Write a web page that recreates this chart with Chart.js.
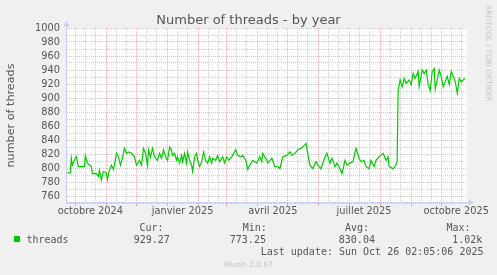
<!DOCTYPE html>
<html>
<head>
<meta charset="utf-8">
<script src="https://cdn.jsdelivr.net/npm/chart.js@4.4.1/dist/chart.umd.min.js"></script>
<style>
  html, body { margin: 0; padding: 0; background: #f0f0f0; }
  canvas { display: block; }
</style>
</head>
<body>
<canvas id="chart" width="497" height="275"></canvas>
<script>
// day index = days since 1 Oct 2024
const days = [
  -8, -5, -4, -3, -1, 1, 3, 6, 9, 10, 12, 16, 17, 21, 23, 24, 26, 28, 31, 32,
  34, 36, 38, 39, 41, 43, 45, 47, 49, 51, 53, 56, 59, 61, 64, 66, 68, 70, 72, 73,
  75, 77, 79, 82, 84, 86, 88, 90, 92, 94, 96, 97, 99, 101, 102, 104, 106, 107, 109, 111,
  112, 114, 116, 117, 119, 121, 122, 124, 126, 128, 130, 132, 134, 136, 137, 140, 142, 144, 147, 149,
  151, 153, 156, 158, 160, 162, 165, 167, 170, 172, 174, 177, 181, 184, 186, 187, 191, 192, 196, 199,
  202, 204, 207, 211, 214, 216, 219, 222, 225, 229, 230, 234, 237, 240, 242, 245, 249, 251, 254, 256,
  259, 261, 264, 266, 269, 271, 274, 277, 280, 283, 285, 288, 290, 293, 295, 298, 300, 303, 305, 307,
  310, 312, 313, 317, 319, 321, 322, 324, 326, 328, 330, 333, 335, 337, 339, 342, 343, 346, 348, 350,
  352, 354, 356, 358, 359, 361, 363, 365, 367, 369, 371, 373, 375, 377, 379, 381, 383, 385, 387, 389
];
const threads = [
  793, 793, 814, 804, 811, 816, 802, 802, 802, 818, 807, 802, 792, 792, 788, 797, 783, 795, 793, 784,
  797, 804, 798, 804, 821, 816, 804, 814, 828, 821, 823, 821, 816, 804, 811, 804, 828, 821, 804, 826,
  816, 828, 816, 811, 821, 814, 826, 816, 811, 830, 826, 818, 821, 811, 816, 807, 818, 809, 821, 807,
  823, 811, 804, 795, 816, 821, 811, 802, 809, 823, 811, 807, 816, 807, 814, 811, 818, 809, 816, 807,
  816, 811, 816, 821, 826, 818, 816, 818, 811, 798, 804, 811, 807, 816, 809, 821, 811, 807, 814, 802,
  802, 799, 816, 818, 823, 818, 821, 826, 828, 833, 835, 804, 799, 809, 804, 799, 816, 821, 807, 814,
  802, 807, 799, 792, 811, 804, 807, 809, 828, 814, 809, 811, 802, 799, 811, 802, 811, 816, 818, 821,
  811, 816, 802, 799, 802, 809, 911, 926, 916, 928, 921, 926, 919, 935, 928, 938, 916, 940, 935, 940,
  919, 911, 938, 942, 913, 926, 940, 931, 916, 923, 931, 919, 938, 931, 923, 907, 928, 923, 926, 928
];

const yLabels = [760, 780, 800, 820, 840, 860, 880, 900, 920, 940, 960, 980, 1000];
const xLabels = ['octobre 2024', 'janvier 2025', 'avril 2025', 'juillet 2025', 'octobre 2025'];
const xLabelDays = [15, 107, 197, 288, 380];

const legendHeads = ['Cur:', 'Min:', 'Avg:', 'Max:'];
const legendValues = ['929.27', '773.25', '830.04', '1.02k'];
const lastUpdate = 'Last update: Sun Oct 26 02:05:06 2025';

const X_MIN = -8.3, X_MAX = 390.7;
const FONT = 'DejaVu Sans';
const MONO = 'DejaVu Sans Mono';
const TEXT = '#555555';
const AXIS = '#c8d0f6';
const MAJOR = 'rgba(222, 79, 79, 0.42)';
const MINOR = 'rgba(143, 143, 143, 0.42)';

// grille : début de mois (rouge), 11 et 21 (gris)
function dayOf(y, m, d) {
  return Math.round((Date.UTC(y, m, d) - Date.UTC(2024, 9, 1)) / 86400000);
}
const monthStarts = [];
const minorDays = [];
for (let y = 2024; y <= 2025; y++) {
  for (let m = 0; m < 12; m++) {
    monthStarts.push(dayOf(y, m, 1));
    minorDays.push(dayOf(y, m, 11), dayOf(y, m, 21));
  }
}
const inRange = v => v >= X_MIN && v <= X_MAX;
const xTickValues = [...monthStarts, ...minorDays, ...xLabelDays].filter(inRange).sort((a, b) => a - b);

const muninPlugin = {
  id: 'munin',
  beforeDraw(chart) {
    const { ctx, chartArea: a } = chart;
    ctx.save();
    ctx.fillStyle = '#f0f0f0';
    ctx.fillRect(0, 0, chart.width, chart.height);
    ctx.fillStyle = '#ffffff';
    ctx.fillRect(a.left, a.top, a.right - a.left, a.bottom - a.top);
    ctx.restore();
  },
  afterDraw(chart) {
    const { ctx, chartArea: a } = chart;
    ctx.save();

    // axes + flèches
    ctx.strokeStyle = AXIS;
    ctx.fillStyle = AXIS;
    ctx.lineWidth = 1;
    const ax = a.left - 0.5, ay = a.bottom - 0.5;
    ctx.beginPath();
    ctx.moveTo(ax, a.bottom + 1);
    ctx.lineTo(ax, a.top - 2);
    ctx.moveTo(a.left - 1, ay);
    ctx.lineTo(a.right + 2, ay);
    ctx.stroke();
    ctx.beginPath();
    ctx.moveTo(ax, a.top - 7);
    ctx.lineTo(ax - 3, a.top - 1.5);
    ctx.lineTo(ax + 3, a.top - 1.5);
    ctx.closePath();
    ctx.fill();
    ctx.beginPath();
    ctx.moveTo(a.right + 7, ay);
    ctx.lineTo(a.right + 1.5, ay - 3);
    ctx.lineTo(a.right + 1.5, ay + 3);
    ctx.closePath();
    ctx.fill();

    // titre
    ctx.fillStyle = TEXT;
    ctx.font = '13px "' + FONT + '"';
    ctx.textAlign = 'center';
    ctx.textBaseline = 'alphabetic';
    ctx.fillText('Number of threads - by year', chart.width / 2, 24);

    // légende
    ctx.fillStyle = '#00cc00';
    ctx.fillRect(14, 236, 6, 6);
    ctx.fillStyle = TEXT;
    ctx.font = '10px "' + MONO + '"';
    ctx.textAlign = 'left';
    ctx.fillText('threads', 26.5, 243);
    const headX = [139.4, 242.7, 345, 446.5];
    const valX = [133.7, 229.8, 338.8, 452.2];
    legendHeads.forEach((h, i) => ctx.fillText(h, headX[i], 231.3));
    legendValues.forEach((v, i) => ctx.fillText(v, valX[i], 243));
    ctx.fillText(lastUpdate, 260.7, 254.6);

    // filigranes
    ctx.fillStyle = '#c4c4c4';
    ctx.font = '7.5px "' + FONT + '"';
    ctx.textAlign = 'center';
    ctx.fillText('Munin 2.0.67', chart.width / 2, 267.3);
    ctx.translate(487.7, 5);
    ctx.rotate(Math.PI / 2);
    ctx.textAlign = 'left';
    ctx.textBaseline = 'middle';
    ctx.fillText('RRDTOOL / TOBI OETIKER', 0, 0);
    ctx.restore();
  }
};

new Chart(document.getElementById('chart'), {
  type: 'line',
  data: {
    datasets: [{
      label: 'threads',
      data: days.map((d, i) => ({ x: d, y: threads[i] })),
      borderColor: '#00cc00',
      borderWidth: 1.2,
      pointRadius: 0,
      fill: false,
      tension: 0
    }]
  },
  options: {
    responsive: false,
    animation: false,
    devicePixelRatio: 1,
    layout: { padding: { top: 28, right: 30, left: 0, bottom: 0 } },
    plugins: {
      legend: { display: false },
      tooltip: { enabled: false }
    },
    scales: {
      x: {
        type: 'linear',
        min: X_MIN,
        max: X_MAX,
        afterBuildTicks: scale => {
          scale.ticks = xTickValues.map(v => ({ value: v }));
        },
        afterFit: scale => { scale.height = 72; },
        grid: {
          lineWidth: 1,
          color: ctx => {
            const v = ctx.tick.value;
            if (monthStarts.includes(v)) return MAJOR;
            if (minorDays.includes(v)) return MINOR;
            return 'rgba(0,0,0,0)';
          },
          drawTicks: true,
          tickLength: 3,
          tickColor: ctx => monthStarts.includes(ctx.tick.value) ? MAJOR : 'rgba(0,0,0,0)'
        },
        border: { display: false, dash: [1, 1] },
        ticks: {
          autoSkip: false,
          maxRotation: 0,
          minRotation: 0,
          padding: 0,
          color: TEXT,
          font: { family: FONT, size: 9.8 },
          callback: v => {
            const i = xLabelDays.indexOf(v);
            return i >= 0 ? xLabels[i] : '';
          }
        }
      },
      y: {
        min: 750,
        max: 1000,
        afterFit: scale => { scale.width = 67; },
        grid: {
          lineWidth: 1,
          drawTicks: false,
          color: ctx => ctx.tick.value % 20 === 0 ? MAJOR : MINOR
        },
        border: { display: false, dash: [1, 1] },
        ticks: {
          stepSize: 10,
          autoSkip: false,
          padding: 7,
          color: TEXT,
          font: { family: FONT, size: 9.8 },
          callback: v => yLabels.includes(v) ? String(v) : ''
        },
        title: {
          display: true,
          text: 'number of threads',
          color: TEXT,
          font: { family: FONT, size: 11.2 },
          padding: { top: 4, bottom: 0 }
        }
      }
    }
  },
  plugins: [muninPlugin]
});
</script>
</body>
</html>
